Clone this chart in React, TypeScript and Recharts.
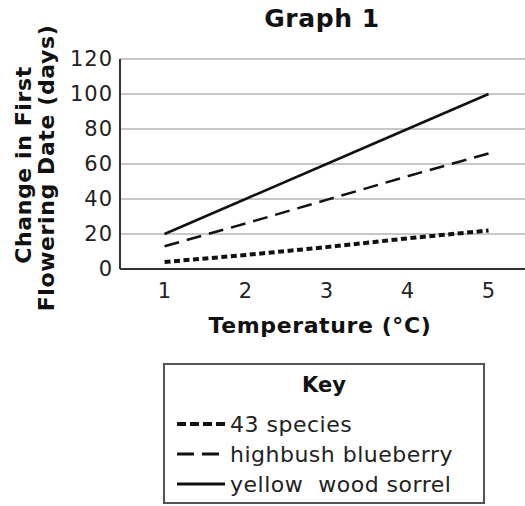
import React from "react";
import { LineChart, Line, XAxis, YAxis, CartesianGrid } from "recharts";

const temperatures = [1, 2, 3, 4, 5];
const species43 = [4, 8, 12.5, 17.5, 22];
const blueberry = [13, 26, 39.5, 53, 66];
const woodSorrel = [20, 40, 60, 80, 100];
const yTicks = [0, 20, 40, 60, 80, 100, 120];
const seriesNames = ["43 species", "highbush blueberry", "yellow  wood sorrel"];

const data = temperatures.map((t, i) => ({
  t,
  s43: species43[i],
  hb: blueberry[i],
  yws: woodSorrel[i],
}));

const FONT = "'DejaVu Sans', Verdana, sans-serif";

const styles = [
  { key: "s43", dash: "6 3.5", width: 4 },
  { key: "hb", dash: "15 8", width: 2.5 },
  { key: "yws", dash: undefined, width: 2.5 },
];

export default function App() {
  return (
    <div style={{ position: "absolute", left: 0, top: 0, width: 525, height: 506, background: "#fff", fontFamily: FONT }}>
      <LineChart width={525} height={506} data={data} margin={{ top: 59, right: 0, left: 0, bottom: 187 }}>
        <text x={322} y={27} textAnchor="middle" fontFamily={FONT} fontWeight="bold" fontSize={25} letterSpacing={0.6} fill="#111">Graph 1</text>
        <text transform="translate(31,165) rotate(-90)" textAnchor="middle" fontFamily={FONT} fontWeight="bold" fontSize={22} letterSpacing={0.6} fill="#111">Change in First</text>
        <text transform="translate(54,168) rotate(-90)" textAnchor="middle" fontFamily={FONT} fontWeight="bold" fontSize={22} letterSpacing={0.6} fill="#111">Flowering Date (days)</text>
        <text x={320} y={333} textAnchor="middle" fontFamily={FONT} fontWeight="bold" fontSize={22} letterSpacing={0.6} fill="#111">Temperature (°C)</text>
        <CartesianGrid vertical={false} stroke="#b5b5b5" strokeWidth={1.5} />
        <XAxis
          dataKey="t"
          type="number"
          domain={[0.45, 5.45]}
          ticks={temperatures}
          allowDataOverflow
          height={50}
          tickLine={false}
          axisLine={{ stroke: "#333", strokeWidth: 2 }}
          tick={{ fontFamily: FONT, fontSize: 21, fill: "#222" }}
          tickMargin={8}
        />
        <YAxis
          width={120}
          domain={[0, 120]}
          ticks={yTicks}
          interval={0}
          tickLine={false}
          axisLine={{ stroke: "#333", strokeWidth: 2 }}
          tick={{ fontFamily: FONT, fontSize: 21, fill: "#222", letterSpacing: 1 }}
          tickMargin={1}
        />
        {styles.map((s) => (
          <Line
            key={s.key}
            dataKey={s.key}
            type="linear"
            stroke="#111"
            strokeWidth={s.width}
            strokeDasharray={s.dash}
            dot={false}
            activeDot={false}
            isAnimationActive={false}
          />
        ))}
      </LineChart>
      <div
        style={{
          position: "absolute",
          left: 163,
          top: 363,
          width: 322,
          height: 141,
          border: "2px solid #555",
          boxSizing: "border-box",
        }}
      >
        <div style={{ textAlign: "center", fontWeight: "bold", fontSize: 21, marginTop: 5, height: 31, lineHeight: "31px", color: "#111" }}>Key</div>
        <div style={{ height: 8 }} />
        {seriesNames.map((name, i) => (
          <div key={name} style={{ display: "flex", alignItems: "center", height: 30, marginLeft: 10, fontSize: 22, letterSpacing: 0.5, color: "#222", whiteSpace: "pre" }}>
            <svg width={50} height={10} style={{ marginRight: 5 }}>
              <line x1={2} y1={5} x2={50} y2={5} stroke="#111" strokeWidth={i === 0 ? 4 : 3} strokeDasharray={i === 0 ? "9 4" : i === 1 ? "17 8" : undefined} />
            </svg>
            {name}
          </div>
        ))}
      </div>
    </div>
  );
}
